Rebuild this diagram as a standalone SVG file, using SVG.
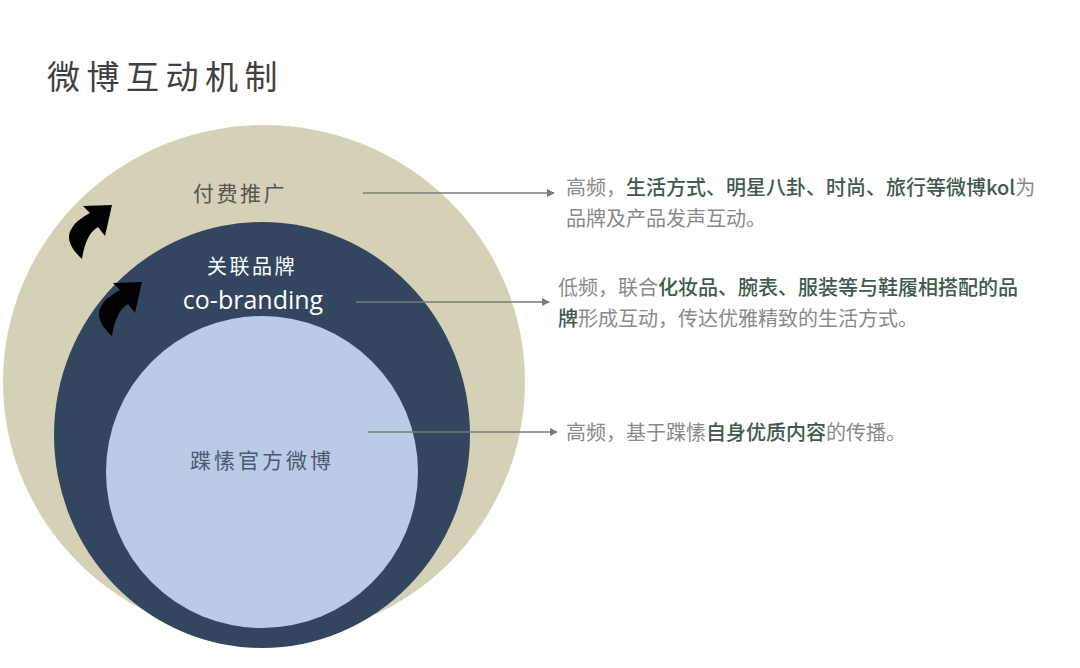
<svg xmlns="http://www.w3.org/2000/svg" width="1080" height="668" viewBox="0 0 1080 668">
<defs>
<style>
.t{font-family:"Noto Sans CJK SC","Noto Sans",sans-serif;}
.desc{font-size:20px;fill:#8a8a8a;}
.em{fill:#3e5a4c;font-weight:500;}
.conn{stroke:#7a7a7a;stroke-width:1.6;fill:none;marker-end:url(#ah);}
</style>
<marker id="ah" viewBox="0 0 10 10" refX="9" refY="5" markerWidth="5" markerHeight="5" orient="auto" markerUnits="strokeWidth">
<path d="M0,0 L10,5 L0,10 Z" fill="#7a7a7a"/>
</marker>
<path id="curv" d="M82,259 C71,249 65,238 72,228 C76,221 83,217 90,213 L83,206 L112,205 L105,236 L98,227 C91,231 85,240 82,259 Z" fill="#000"/>
</defs>
<rect width="1080" height="668" fill="#ffffff"/>
<text class="t" x="47" y="89" font-size="33" fill="#404040" letter-spacing="6.5">微博互动机制</text>
<g id="outer">
<ellipse cx="264" cy="382" rx="261" ry="257" fill="#d5d1b6"/>
<text class="t" x="240" y="201" font-size="21" fill="#555" text-anchor="middle" letter-spacing="2.5">付费推广</text>
<use href="#curv"/>
</g>
<g id="middle">
<ellipse cx="262" cy="435" rx="208" ry="213" fill="#32465f"/>
<text class="t" x="252" y="274" font-size="20" fill="#ffffff" text-anchor="middle" letter-spacing="2.5">关联品牌</text>
<text x="253" y="309" font-family="'Open Sans','Liberation Sans',sans-serif" font-size="25" fill="#ffffff" text-anchor="middle">co-branding</text>
<use href="#curv" transform="translate(30,77)"/>
</g>
<g id="inner">
<ellipse cx="262" cy="472" rx="156" ry="156" fill="#b8cde5"/>
<text class="t" x="262" y="468" font-size="21" fill="#4a5a70" text-anchor="middle" letter-spacing="3">蹀愫官方微博</text>
</g>
<g id="connectors">
<line class="conn" x1="363" y1="193" x2="554" y2="193"/>
<line class="conn" x1="356" y1="302" x2="549" y2="302"/>
<line class="conn" x1="368" y1="432" x2="557" y2="432"/>
</g>
<g id="desc1">
<text class="t desc" x="566" y="195">高频，<tspan class="em">生活方式、明星八卦、时尚、旅行等微博kol</tspan>为</text>
<text class="t desc" x="566" y="226">品牌及产品发声互动。</text>
</g>
<g id="desc2">
<text class="t desc" x="558" y="295">低频，联合<tspan class="em">化妆品、腕表、服装等与鞋履相搭配的品</tspan></text>
<text class="t desc" x="558" y="326"><tspan class="em">牌</tspan>形成互动，传达优雅精致的生活方式。</text>
</g>
<g id="desc3">
<text class="t desc" x="566" y="440">高频，基于蹀愫<tspan class="em">自身优质内容</tspan>的传播。</text>
</g>
</svg>
